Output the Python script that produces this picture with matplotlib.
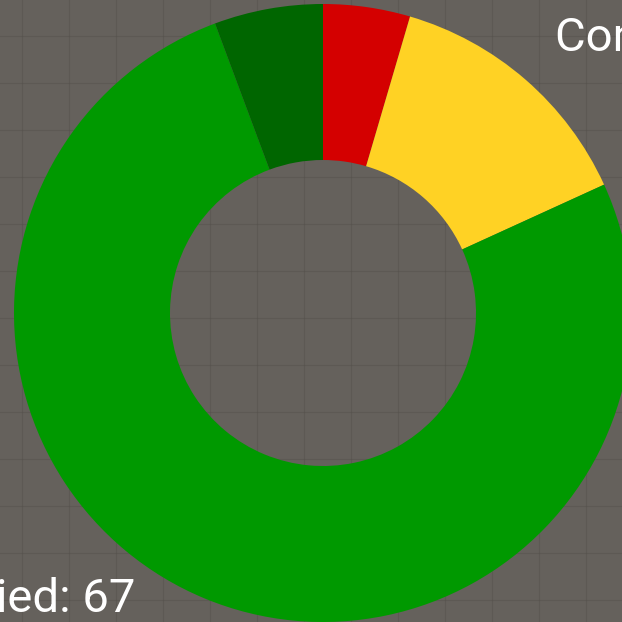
import numpy as np
import matplotlib.pyplot as plt

plt.rcParams['font.family'] = ['Roboto', 'DejaVu Sans']

# segment data, clockwise from 12 o'clock
labels = ['Confirmed', 'Pending', 'Verified', 'Approved']
values = [4, 12, 67, 5]
colors = ['#d40000', '#ffd224', '#009900', '#006600']

fig = plt.figure(figsize=(6.22, 6.22), dpi=100)
fig.patch.set_facecolor('#65615c')
ax = fig.add_axes([0, 0, 1, 1])
ax.set_facecolor('#65615c')

# faint paper grid in the background
for p in np.arange(22, 622, 47):
    ax.axvline(p, color='#4f4b46', linewidth=0.8, alpha=0.35, zorder=0)
    ax.axhline(p, color='#4f4b46', linewidth=0.8, alpha=0.35, zorder=0)

ax.pie(values, colors=colors, startangle=90, counterclock=False,
       radius=309, center=(323, 309),
       wedgeprops=dict(width=156, linewidth=0))

ax.set_xlim(0, 622)
ax.set_ylim(0, 622)
ax.set_aspect('auto')
ax.axis('off')

# labels run off the canvas edges
fig.text(555, 584, f'{labels[0]}: {values[0]}', color='white', fontsize=34,
         ha='left', va='center', transform=None)
fig.text(135, 23, f'{labels[2]}: {values[2]}', color='white', fontsize=34,
         ha='right', va='center', transform=None)

fig.savefig('out.png', dpi=100, facecolor=fig.get_facecolor())
